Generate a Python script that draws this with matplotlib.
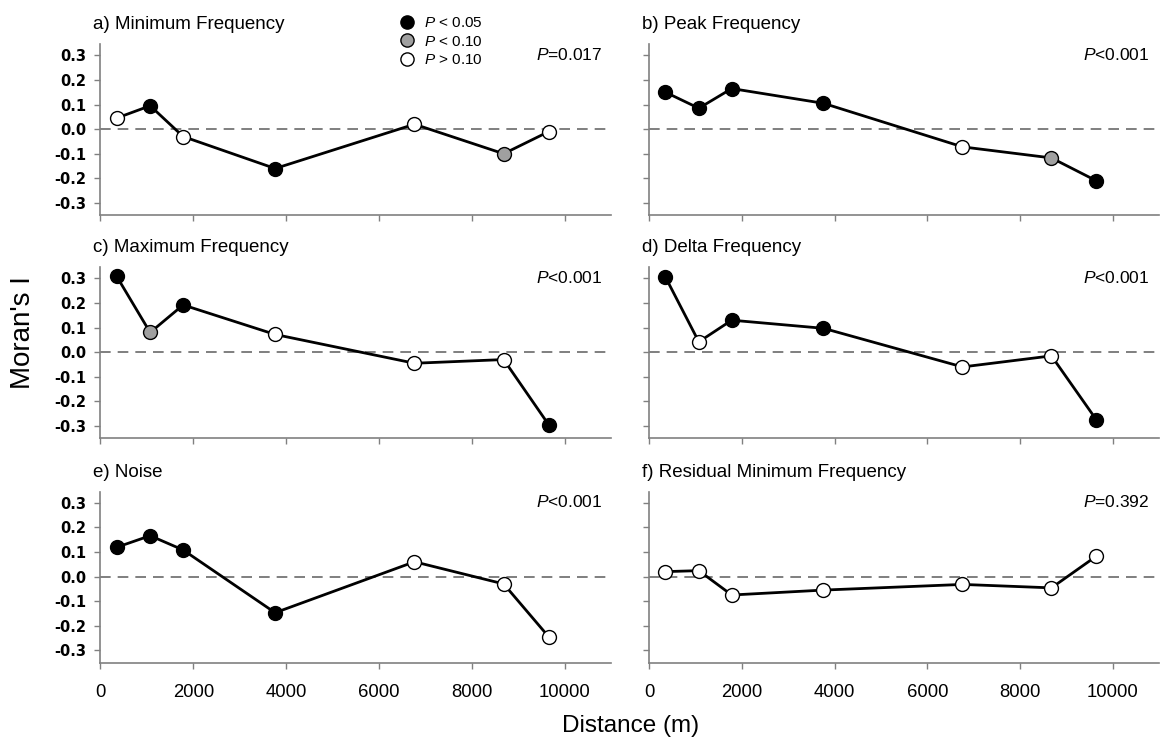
import matplotlib.pyplot as plt
from matplotlib.lines import Line2D

plt.rcParams['font.family'] = ['Liberation Sans', 'DejaVu Sans']
plt.rcParams['mathtext.fontset'] = 'custom'
plt.rcParams['mathtext.it'] = 'Liberation Sans:italic'
plt.rcParams['mathtext.rm'] = 'Liberation Sans'

# distance classes (m)
distance = [350, 1070, 1780, 3760, 6760, 8680, 9650]

titles = ['a) Minimum Frequency', 'b) Peak Frequency', 'c) Maximum Frequency',
          'd) Delta Frequency', 'e) Noise', 'f) Residual Minimum Frequency']
p_labels = ['=0.017', '<0.001', '<0.001', '<0.001', '<0.001', '=0.392']

# Moran's I per distance class
min_freq = [0.045, 0.095, -0.03, -0.16, 0.02, -0.10, -0.01]
peak_freq = [0.15, 0.085, 0.165, 0.105, -0.072, -0.117, -0.21]
max_freq = [0.308, 0.08, 0.192, 0.072, -0.045, -0.03, -0.295]
delta_freq = [0.305, 0.042, 0.13, 0.097, -0.06, -0.015, -0.275]
noise = [0.119, 0.166, 0.108, -0.147, 0.06, -0.03, -0.245]
resid_min_freq = [0.02, 0.024, -0.075, -0.055, -0.032, -0.046, 0.083]

# significance: s = P<0.05, m = P<0.10, n = P>0.10
sig_min = ['n', 's', 'n', 's', 'n', 'm', 'n']
sig_peak = ['s', 's', 's', 's', 'n', 'm', 's']
sig_max = ['s', 'm', 's', 'n', 'n', 'n', 's']
sig_delta = ['s', 'n', 's', 's', 'n', 'n', 's']
sig_noise = ['s', 's', 's', 's', 'n', 'n', 'n']
sig_resid = ['n', 'n', 'n', 'n', 'n', 'n', 'n']

series = [min_freq, peak_freq, max_freq, delta_freq, noise, resid_min_freq]
sigs = [sig_min, sig_peak, sig_max, sig_delta, sig_noise, sig_resid]

fills = {'s': 'black', 'm': '#a0a0a0', 'n': 'white'}
axis_grey = '#808080'

fig = plt.figure(figsize=(11.6, 7.4), dpi=100)

col_x = [0.0866, 0.5597]
col_w = [0.4405, 0.4394]
row_y = [0.7091, 0.4077, 0.1045]
row_h = 0.2311

axes = []
for i in range(6):
    r, c = divmod(i, 2)
    ax = fig.add_axes([col_x[c], row_y[r], col_w[c], row_h])
    axes.append(ax)

    vals = series[i]
    ax.axhline(0, color='#6a6a6a', lw=1.2, dashes=(6.4, 4.2), zorder=1)
    ax.plot(distance, vals, color='black', lw=2, zorder=2)
    for code in ['s', 'm', 'n']:
        xs = [d for d, s in zip(distance, sigs[i]) if s == code]
        ys = [v for v, s in zip(vals, sigs[i]) if s == code]
        if xs:
            ax.plot(xs, ys, 'o', ms=10, mfc=fills[code], mec='black',
                    mew=1, ls='none', zorder=3)

    ax.set_xlim(0, 11000)
    ax.set_ylim(-0.35, 0.345)
    ax.set_xticks([0, 2000, 4000, 6000, 8000, 10000])
    ax.set_yticks([-0.3, -0.2, -0.1, 0.0, 0.1, 0.2, 0.3])
    for side in ['top', 'right']:
        ax.spines[side].set_visible(False)
    for side in ['left', 'bottom']:
        ax.spines[side].set_color(axis_grey)
        ax.spines[side].set_linewidth(1.2)
    ax.tick_params(direction='out', length=4, width=1, color=axis_grey)
    ax.tick_params(axis='x', pad=11, labelsize=13.3)
    ax.tick_params(axis='y', pad=6)

    if c == 0:
        ax.set_yticklabels(['-0.3', '-0.2', '-0.1', '0.0', '0.1', '0.2', '0.3'],
                           family='DejaVu Sans', weight='bold', fontsize=10.5)
    else:
        ax.set_yticklabels([])
    if r < 2:
        ax.set_xticklabels([])

    ax.text(-0.015, 1.088, titles[i], transform=ax.transAxes,
            fontsize=13.5, ha='left', va='baseline')
    ax.text(0.982, 0.94, '$P$' + p_labels[i], transform=ax.transAxes,
            fontsize=12.5, ha='right', va='center')

# legend in panel a
handles = [Line2D([], [], marker='o', ls='none', ms=9.5, mfc=fills[k],
                  mec='black', mew=1) for k in ['s', 'm', 'n']]
labels = ['$P$ < 0.05', '$P$ < 0.10', '$P$ > 0.10']
axes[0].legend(handles, labels, loc='upper left', bbox_to_anchor=(0.585, 1.165),
               frameon=False, fontsize=11, handlelength=1.0,
               handletextpad=0.6, labelspacing=0.3, borderaxespad=0,
               borderpad=0)

fig.text(0.02, 1 - 333 / 740, "Moran's I", rotation=90, fontsize=20,
         ha='center', va='center')
fig.text(631 / 1160, 1 - 726 / 740, 'Distance (m)', fontsize=17.5,
         ha='center', va='center')

fig.savefig('out.png', dpi=100)
